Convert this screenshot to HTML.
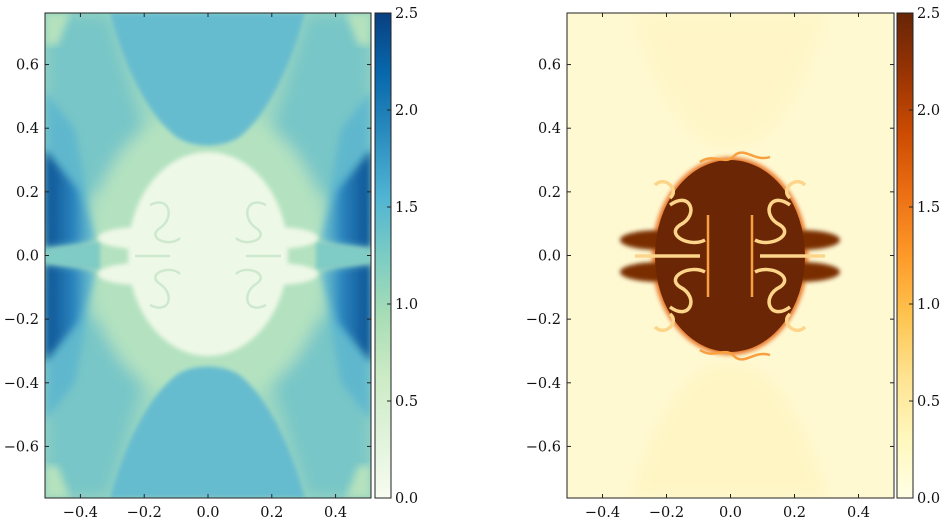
<!DOCTYPE html>
<html><head><meta charset="utf-8">
<style>
body{margin:0;background:#fff;}
svg{display:block;font-family:"DejaVu Serif","Liberation Serif",serif;}
</style></head>
<body>
<svg id="chart" width="946" height="524" viewBox="0 0 946 524" xmlns="http://www.w3.org/2000/svg">
<defs>
<linearGradient id="gnbu" x1="0" y1="1" x2="0" y2="0">
<stop offset="0" stop-color="#f7fcf0"/><stop offset="0.125" stop-color="#e0f3db"/><stop offset="0.25" stop-color="#ccebc5"/><stop offset="0.375" stop-color="#a8ddb5"/><stop offset="0.5" stop-color="#7bccc4"/><stop offset="0.625" stop-color="#4eb3d3"/><stop offset="0.75" stop-color="#2b8cbe"/><stop offset="0.875" stop-color="#0868ac"/><stop offset="1" stop-color="#084081"/>
</linearGradient>
<linearGradient id="ylorbr" x1="0" y1="1" x2="0" y2="0">
<stop offset="0" stop-color="#ffffe5"/><stop offset="0.125" stop-color="#fff7bc"/><stop offset="0.25" stop-color="#fee391"/><stop offset="0.375" stop-color="#fec44f"/><stop offset="0.5" stop-color="#fe9929"/><stop offset="0.625" stop-color="#ec7014"/><stop offset="0.75" stop-color="#cc4c02"/><stop offset="0.875" stop-color="#993404"/><stop offset="1" stop-color="#662506"/>
</linearGradient>
<linearGradient id="sideLg" x1="0" y1="0" x2="1" y2="0">
<stop offset="0" stop-color="#0a4f92"/><stop offset="0.6" stop-color="#2b86bf"/><stop offset="1" stop-color="#5bb5d0" stop-opacity="0.3"/>
</linearGradient>
<linearGradient id="sideRg" x1="1" y1="0" x2="0" y2="0">
<stop offset="0" stop-color="#0a4f92"/><stop offset="0.6" stop-color="#2b86bf"/><stop offset="1" stop-color="#5bb5d0" stop-opacity="0.3"/>
</linearGradient>
<filter id="blur2"><feGaussianBlur stdDeviation="2"/></filter>
<filter id="blur4"><feGaussianBlur stdDeviation="4"/></filter>
<filter id="blur8"><feGaussianBlur stdDeviation="8"/></filter>
<clipPath id="clipL"><rect x="45" y="13" width="326" height="485"/></clipPath>
<clipPath id="clipR"><rect x="567" y="13" width="327" height="485"/></clipPath>
</defs>

<!-- LEFT PANEL -->
<g clip-path="url(#clipL)">
<rect x="45" y="13" width="326" height="485" fill="#9fd8c0"/>
<g filter="url(#blur8)">
<path d="M45,13 L110,13 L150,150 L45,230 Z" fill="#78c6c7"/>
<path d="M371,13 L306,13 L266,150 L371,230 Z" fill="#78c6c7"/>
<path d="M45,498 L110,498 L150,362 L45,282 Z" fill="#78c6c7"/>
<path d="M371,498 L306,498 L266,362 L371,282 Z" fill="#78c6c7"/>
<ellipse cx="208" cy="256" rx="120" ry="150" fill="#b4e2c0"/>
</g>
<path d="M45,13 L70,13 L58,45 L45,45 Z" fill="#b5e2bd" filter="url(#blur4)"/>
<path d="M371,13 L346,13 L358,45 L371,45 Z" fill="#b5e2bd" filter="url(#blur4)"/>
<path d="M45,498 L70,498 L58,466 L45,466 Z" fill="#b5e2bd" filter="url(#blur4)"/>
<path d="M371,498 L346,498 L358,466 L371,466 Z" fill="#b5e2bd" filter="url(#blur4)"/>
<path d="M110,13 L305,13 C290,70 265,118 238,138 C220,148 195,148 178,138 C150,118 125,70 110,13 Z" fill="#66bccf" filter="url(#blur2)"/>
<path d="M110,498 L305,498 C290,442 265,394 238,374 C220,364 195,364 178,374 C150,394 125,442 110,498 Z" fill="#66bccf" filter="url(#blur2)"/>
<g filter="url(#blur4)" opacity="0.6">
<path d="M45,90 L75,130 L95,240 L45,248 Z" fill="#4faed2"/>
<path d="M45,422 L75,382 L95,272 L45,264 Z" fill="#4faed2"/>
<path d="M371,90 L341,130 L321,240 L371,248 Z" fill="#4faed2"/>
<path d="M371,422 L341,382 L321,272 L371,264 Z" fill="#4faed2"/>
</g>
<g filter="url(#blur4)">
<path d="M45,150 L78,190 L95,242 L45,248 Z" fill="url(#sideLg)"/>
<path d="M45,362 L78,322 L95,270 L45,264 Z" fill="url(#sideLg)"/>
<path d="M371,150 L338,190 L321,242 L371,248 Z" fill="url(#sideRg)"/>
<path d="M371,362 L338,322 L321,270 L371,264 Z" fill="url(#sideRg)"/>
</g>
<path d="M45,249 L100,242 L100,270 L45,263 Z" fill="#7fcbc5" filter="url(#blur2)"/>
<path d="M371,249 L316,242 L316,270 L371,263 Z" fill="#7fcbc5" filter="url(#blur2)"/>
<g filter="url(#blur2)">
<ellipse cx="208" cy="254" rx="80" ry="102" fill="#eef8e6"/>
<ellipse cx="140" cy="238" rx="42" ry="11" fill="#eef8e6"/>
<ellipse cx="140" cy="274" rx="42" ry="11" fill="#eef8e6"/>
<ellipse cx="276" cy="238" rx="42" ry="11" fill="#eef8e6"/>
<ellipse cx="276" cy="274" rx="42" ry="11" fill="#eef8e6"/>
</g>
<g fill="none" stroke="#c4e6c8" stroke-width="2.5" opacity="0.8">
<path d="M150,205 C170,195 175,218 160,228 C145,238 170,248 180,238"/>
<path d="M150,305 C170,315 175,294 160,284 C145,274 170,264 180,274"/>
<path d="M266,205 C246,195 241,218 256,228 C271,238 246,248 236,238"/>
<path d="M266,305 C246,315 241,294 256,284 C271,274 246,264 236,274"/>
<path d="M170,256 L135,256 M246,256 L281,256"/>
</g>
</g>
<rect x="45" y="13" width="326" height="485" fill="none" stroke="#222" stroke-width="1"/>
<rect x="375" y="13" width="16" height="485" fill="url(#gnbu)" stroke="#222" stroke-width="1"/>

<!-- RIGHT PANEL -->
<g clip-path="url(#clipR)">
<rect x="567" y="13" width="327" height="485" fill="#fff9d2"/>
<g filter="url(#blur8)" opacity="0.5">
<path d="M632,13 L827,13 C812,70 787,120 760,140 C742,150 717,150 700,140 C672,120 647,70 632,13 Z" fill="#fff3bd"/>
<path d="M632,498 L827,498 C812,442 787,392 760,372 C742,362 717,362 700,372 C672,392 647,442 632,498 Z" fill="#fff1b6"/>
</g>
<g filter="url(#blur2)">
<ellipse cx="730" cy="256" rx="78" ry="99" fill="#e8772a"/>
<ellipse cx="660" cy="240" rx="40" ry="10" fill="#7a2d06"/>
<ellipse cx="660" cy="272" rx="40" ry="10" fill="#7a2d06"/>
<ellipse cx="800" cy="240" rx="40" ry="10" fill="#7a2d06"/>
<ellipse cx="800" cy="272" rx="40" ry="10" fill="#7a2d06"/>
</g>
<ellipse cx="730" cy="256" rx="75" ry="96" fill="#6b2606"/>
<g fill="none" stroke="#fdd58a" stroke-width="3.5">
<path d="M670,205 C690,190 700,215 680,225 C665,235 690,248 705,240"/>
<path d="M670,307 C690,322 700,297 680,287 C665,277 690,264 705,272"/>
<path d="M790,205 C770,190 760,215 780,225 C795,235 770,248 755,240"/>
<path d="M790,307 C770,322 760,297 780,287 C795,277 770,264 755,272"/>
<path d="M700,256 L635,256 M760,256 L825,256"/>
<path d="M655,185 C665,175 680,190 670,198"/>
<path d="M805,185 C795,175 780,190 790,198"/>
<path d="M655,327 C665,337 680,322 670,314"/>
<path d="M805,327 C795,337 780,322 790,314"/>
</g>
<g fill="none" stroke="#f8a040" stroke-width="2.5">
<path d="M700,162 C715,152 725,167 735,155 C745,147 755,162 770,157"/>
<path d="M700,350 C715,360 725,345 735,357 C745,365 755,350 770,355"/>
<path d="M708,215 L708,297 M752,215 L752,297"/>
</g>
</g>
<rect x="567" y="13" width="327" height="485" fill="none" stroke="#222" stroke-width="1"/>
<rect x="897" y="13" width="16" height="485" fill="url(#ylorbr)" stroke="#222" stroke-width="1"/>

<g id="axes" font-size="14.5" fill="#111"></g>
</svg>
<script>
const xTicks = [-0.4, -0.2, 0.0, 0.2, 0.4];
const yTicks = [0.6, 0.4, 0.2, 0.0, -0.2, -0.4, -0.6];
const cbTicks = [0.0, 0.5, 1.0, 1.5, 2.0, 2.5];
const xLim = [-0.511, 0.511];
const yLim = [-0.762, 0.762];
const cbLim = [0, 2.5];

const NS = 'http://www.w3.org/2000/svg';
const g = document.getElementById('axes');
const panels = [{x0:45,x1:371,cb:391,name:'left'},{x0:567,x1:894,cb:913,name:'right'}];
const Y0 = 13, Y1 = 498;
function fmt(v){ return (v<0?'\u2212':'') + Math.abs(v).toFixed(1); }
function line(x1,y1,x2,y2){
  const l = document.createElementNS(NS,'line');
  l.setAttribute('x1',x1);l.setAttribute('y1',y1);l.setAttribute('x2',x2);l.setAttribute('y2',y2);
  l.setAttribute('stroke','#222');l.setAttribute('stroke-width','1');
  
  
  g.appendChild(l);
}
function text(x,y,s,anchor,name){
  const t = document.createElementNS(NS,'text');
  t.setAttribute('x',x);t.setAttribute('y',y);t.setAttribute('text-anchor',anchor);
  t.textContent = s;
  
  
  g.appendChild(t);
}
panels.forEach(p=>{
  const sx = v => p.x0 + (v - xLim[0])/(xLim[1]-xLim[0])*(p.x1-p.x0);
  const sy = v => Y1 - (v - yLim[0])/(yLim[1]-yLim[0])*(Y1-Y0);
  const sc = v => Y1 - (v - cbLim[0])/(cbLim[1]-cbLim[0])*(Y1-Y0);
  xTicks.forEach(v=>{
    const x = sx(v);
    line(x,Y1,x,Y1-4); line(x,Y0,x,Y0+4);
    text(x,Y1+19,fmt(v),'middle','x-tick-label');
  });
  yTicks.forEach(v=>{
    const y = sy(v);
    line(p.x0,y,p.x0+4,y); line(p.x1,y,p.x1-4,y);
    text(p.x0-6,y+5,fmt(v),'end','y-tick-label');
  });
  cbTicks.forEach(v=>{
    const y = sc(v);
    line(p.cb,y,p.cb-4,y);
    text(p.cb+4,y+5,v.toFixed(1),'start','colorbar-tick-label');
  });
});
</script>
</body></html>
